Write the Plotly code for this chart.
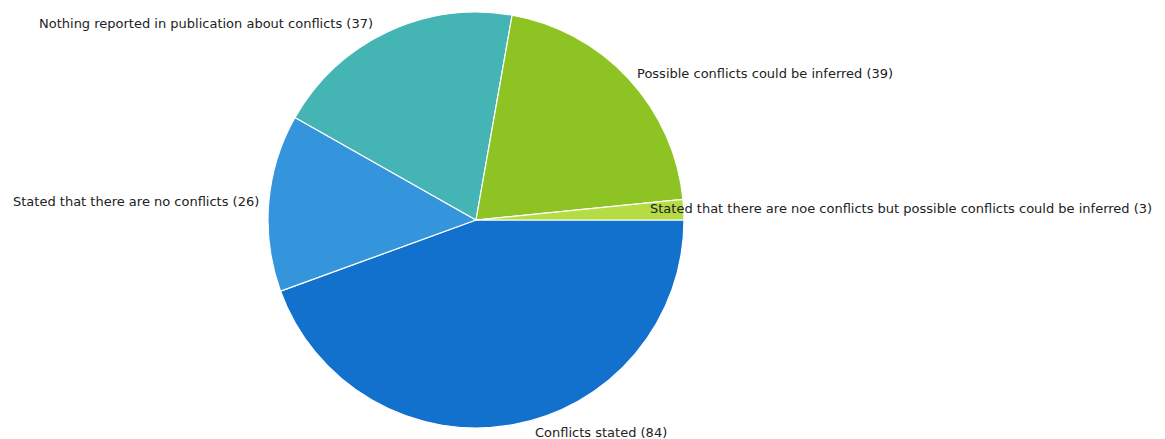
import math
import plotly.graph_objects as go

labels = [
    "Conflicts stated",
    "Stated that there are no conflicts",
    "Nothing reported in publication about conflicts",
    "Possible conflicts could be inferred",
    "Stated that there are noe conflicts but possible conflicts could be inferred",
]
values = [84, 26, 37, 39, 3]
colors = ["#1271CC", "#3595DC", "#45B4B4", "#8DC323", "#B5DC45"]

# label placement relative to the rim point at each slice's mid-angle
label_side = ["left", "right", "right", "left", "left"]
label_shift = [(21, -8), (-8, 1), (-12, 8), (7, 5), (-36, 1)]

W, H = 1165, 439
cx, cy, R = 476, 220, 208

fig = go.Figure(
    go.Pie(
        labels=labels,
        values=values,
        sort=False,
        direction="clockwise",
        rotation=90,
        marker=dict(colors=colors, line=dict(color="white", width=1.2)),
        textinfo="none",
        showlegend=False,
        hoverinfo="label+value",
        domain=dict(x=[(cx - R) / W, (cx + R) / W],
                    y=[1 - (cy + R) / H, 1 - (cy - R) / H]),
    )
)

# outside labels, anchored at the rim point of each slice's mid-angle
total = sum(values)
start = 0.0
for lab, val, side, (dx, dy) in zip(labels, values, label_side, label_shift):
    mid = (start + val / 2) / total * 2 * math.pi
    start += val
    px = cx + R * math.cos(mid)
    py = cy + R * math.sin(mid)
    fig.add_annotation(
        x=px / W, y=1 - py / H, xref="paper", yref="paper",
        text=f"{lab} ({val})", showarrow=False,
        xanchor=side, yanchor="middle", xshift=dx, yshift=dy,
        font=dict(family="DejaVu Sans", size=13, color="#222222"),
    )

fig.update_layout(
    width=W,
    height=H,
    margin=dict(l=0, r=0, t=0, b=0),
    paper_bgcolor="white",
    plot_bgcolor="white",
)

fig.write_html("out.html")
